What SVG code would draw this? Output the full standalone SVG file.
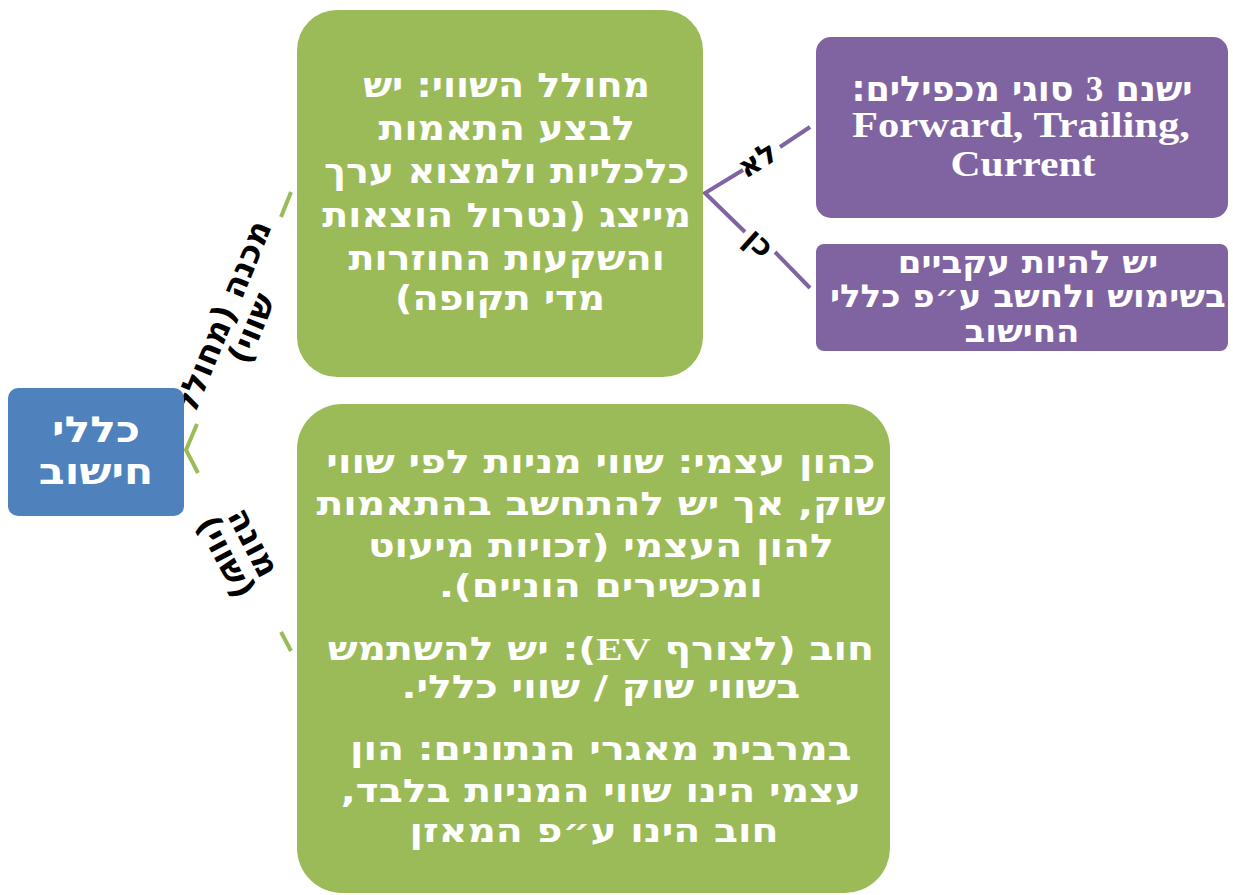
<svg xmlns="http://www.w3.org/2000/svg" width="1233" height="895" viewBox="0 0 1233 895">
<style>
.t{font-family:"DejaVu Sans","Liberation Sans",sans-serif;font-weight:bold;text-anchor:middle;direction:rtl;fill:#fff}
.lt{font-family:"Liberation Serif","DejaVu Serif",serif;font-weight:bold;text-anchor:middle;fill:#fff}
.lb{font-family:"DejaVu Sans","Liberation Sans",sans-serif;font-weight:bold;text-anchor:middle;direction:rtl;fill:#000}
.g{stroke:#9BBB59;stroke-width:4;fill:none}
.p{stroke:#8064A2;stroke-width:4;fill:none}
</style>
<rect width="1233" height="895" fill="#fff"/>
<g id="connectors">
<path class="g" d="M197,424 L186,450 L198,473"/>
<path class="g" d="M281,217 L291,192"/>
<path class="g" d="M281,632 L291,651"/>
<path class="p" d="M743,170 L705,193 L745,232"/>
<path class="p" d="M780,147 L810,127"/>
<path class="p" d="M775,252 L810,288"/>
<g class="lb" font-size="33">
<text transform="translate(236,322) rotate(-67.7)"><tspan x="0" y="-3">מכנה (מחולל</tspan><tspan x="0" y="28">שווי)</tspan></text>
<text transform="translate(241,549) rotate(62.3)"><tspan x="0" y="-3">מונה</tspan><tspan x="0" y="28">(שווי)</tspan></text>
</g>
<g class="lb" font-size="30">
<text transform="translate(757,159) rotate(-32)" y="11">לא</text>
<text transform="translate(760,242) rotate(42)" y="11">כן</text>
</g>
</g>
<g id="root">
<rect x="8" y="388" width="176" height="128" rx="10" fill="#4F81BD"/>
<text class="t" font-size="36" transform="translate(96,0) scale(1.18,1)"><tspan x="0" y="442">כללי</tspan><tspan x="0" y="484">חישוב</tspan></text>
</g>
<g id="numerator">
<rect x="297" y="10" width="406" height="367" rx="40" fill="#9BBB59"/>
<text class="t" font-size="34" transform="translate(500,0) scale(1.12,1)">
<tspan x="0" y="97">מחולל השווי: יש</tspan>
<tspan x="0" y="140">לבצע התאמות</tspan>
<tspan x="0" y="183">כלכליות ולמצוא ערך</tspan>
<tspan x="0" y="227">מייצג (נטרול הוצאות</tspan>
<tspan x="0" y="270">והשקעות החוזרות</tspan>
<tspan x="0" y="310">מדי תקופה)</tspan>
</text>
</g>
<g id="denominator">
<rect x="297" y="404" width="593" height="489" rx="45" fill="#9BBB59"/>
<text class="t" font-size="32" transform="translate(594,0) scale(1.23,1)">
<tspan x="0" y="473">כהון עצמי: שווי מניות לפי שווי</tspan>
<tspan x="0" y="515">שוק, אך יש להתחשב בהתאמות</tspan>
<tspan x="0" y="557">להון העצמי (זכויות מיעוט</tspan>
<tspan x="0" y="597">ומכשירים הוניים).</tspan>
<tspan x="0" y="660">חוב (לצורף <tspan font-family="Liberation Serif">EV</tspan>):  יש להשתמש</tspan>
<tspan x="0" y="698">בשווי שוק / שווי כללי.</tspan>
<tspan x="0" y="760">במרבית מאגרי הנתונים: הון</tspan>
<tspan x="0" y="802">עצמי הינו שווי המניות בלבד,</tspan>
<tspan x="0" y="842">חוב הינו ע״פ המאזן</tspan>
</text>
</g>
<g id="no">
<rect x="816" y="37" width="412" height="181" rx="15" fill="#8064A2"/>
<text class="t" font-size="35"><tspan x="1022" y="101">ישנם <tspan font-family="Liberation Serif">3</tspan> סוגי מכפילים:</tspan></text>
<text class="lt" font-size="35"><tspan x="1021" y="137" textLength="338" lengthAdjust="spacingAndGlyphs">Forward, Trailing,</tspan><tspan x="1023" y="176" textLength="145" lengthAdjust="spacingAndGlyphs">Current</tspan></text>
</g>
<g id="yes">
<rect x="816" y="244" width="412" height="107" rx="8" fill="#8064A2"/>
<text class="t" font-size="31.5" transform="translate(1022,0) scale(1.08,1)">
<tspan x="0" y="273">יש להיות עקביים</tspan>
<tspan x="0" y="307">בשימוש ולחשב ע״פ כללי</tspan>
<tspan x="0" y="342">החישוב</tspan>
</text>
</g>
</svg>
